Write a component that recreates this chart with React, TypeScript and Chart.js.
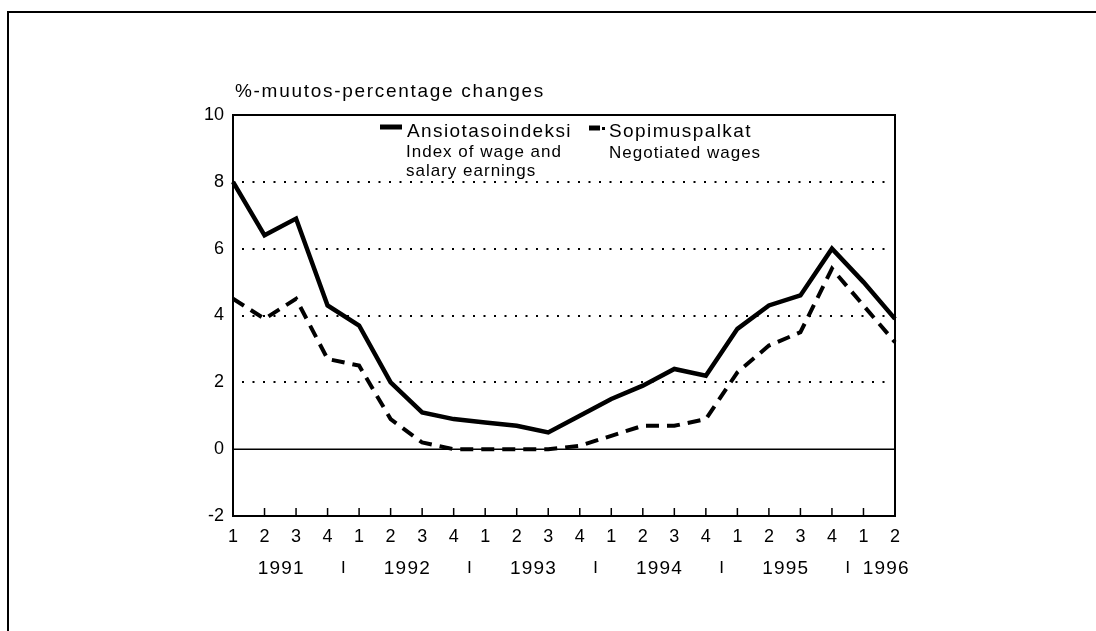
import React, { useEffect, useRef } from "react";
import { Chart, registerables } from "chart.js";

Chart.register(...registerables);

// ---- data ----
const quarterLabels = ["1", "2", "3", "4", "1", "2", "3", "4", "1", "2", "3", "4", "1", "2", "3", "4", "1", "2", "3", "4", "1", "2"];
const yearLabels = ["1991", "1992", "1993", "1994", "1995", "1996"];
const quartersPerYear = [4, 4, 4, 4, 4, 2];
const earningsIndex = [8.0, 6.4, 6.9, 4.3, 3.7, 2.0, 1.1, 0.9, 0.8, 0.7, 0.5, 1.0, 1.5, 1.9, 2.4, 2.2, 3.6, 4.3, 4.6, 6.0, 5.0, 3.9];
const negotiatedWages = [4.5, 3.9, 4.5, 2.7, 2.5, 0.9, 0.2, 0.0, 0.0, 0.0, 0.0, 0.1, 0.4, 0.7, 0.7, 0.9, 2.3, 3.1, 3.5, 5.4, 4.3, 3.2];
const yMin = -2;
const yMax = 10;
const yStep = 2;
const dottedGridValues = [2, 4, 6, 8];
const titleText = "%-muutos-percentage changes";
const legendEarnings = ["Ansiotasoindeksi", "Index of wage and", "salary earnings"];
const legendNegotiated = ["Sopimuspalkat", "Negotiated wages"];

const W = 1096;
const H = 631;
const FONT = '"Liberation Sans", Arial, Helvetica, sans-serif';

function spacedText(
  ctx: CanvasRenderingContext2D,
  text: string,
  x: number,
  y: number,
  size: number,
  spacing: number,
  align: CanvasTextAlign = "left"
) {
  ctx.save();
  ctx.font = `${size}px ${FONT}`;
  (ctx as any).letterSpacing = `${spacing}px`;
  ctx.textAlign = align;
  ctx.textBaseline = "alphabetic";
  ctx.fillStyle = "#000";
  ctx.fillText(text, x, y);
  ctx.restore();
}

const decorPlugin = {
  id: "decor",
  beforeDraw(chart: any) {
    const ctx = chart.ctx as CanvasRenderingContext2D;
    ctx.save();
    ctx.fillStyle = "#fff";
    ctx.fillRect(0, 0, chart.width, chart.height);
    ctx.restore();
  },
  beforeDatasetsDraw(chart: any) {
    const ctx = chart.ctx as CanvasRenderingContext2D;
    const a = chart.chartArea;
    const ys = chart.scales.y;
    ctx.save();
    ctx.strokeStyle = "#000";
    ctx.lineWidth = 2;
    ctx.setLineDash([2, 8.5]);
    for (const v of dottedGridValues) {
      const py = Math.round(ys.getPixelForValue(v));
      ctx.beginPath();
      ctx.moveTo(a.left + 9, py);
      ctx.lineTo(a.right - 5, py);
      ctx.stroke();
    }
    ctx.setLineDash([]);
    ctx.lineWidth = 1.5;
    const z = ys.getPixelForValue(0);
    ctx.beginPath();
    ctx.moveTo(a.left, z);
    ctx.lineTo(a.right, z);
    ctx.stroke();
    ctx.restore();
  },
  afterDatasetsDraw(chart: any) {
    const ctx = chart.ctx as CanvasRenderingContext2D;
    const a = chart.chartArea;
    const xs = chart.scales.x;
    ctx.save();
    ctx.strokeStyle = "#000";
    ctx.fillStyle = "#000";

    // plot box
    ctx.lineWidth = 2;
    ctx.strokeRect(a.left, a.top, a.right - a.left, a.bottom - a.top);

    // inner tick marks on x axis
    ctx.lineWidth = 1.5;
    for (let i = 1; i < quarterLabels.length - 1; i++) {
      const px = xs.getPixelForValue(i);
      ctx.beginPath();
      ctx.moveTo(px, a.bottom);
      ctx.lineTo(px, a.bottom - 8);
      ctx.stroke();
    }

    // outer frame (left + top)
    ctx.lineWidth = 2;
    ctx.beginPath();
    ctx.moveTo(8, H);
    ctx.lineTo(8, 12);
    ctx.lineTo(W, 12);
    ctx.stroke();

    // title
    spacedText(ctx, titleText, a.left + 2, 97, 19, 1.7);

    // legend: solid series
    ctx.lineWidth = 5;
    ctx.beginPath();
    ctx.moveTo(380, 127);
    ctx.lineTo(402, 127);
    ctx.stroke();
    spacedText(ctx, legendEarnings[0], 407, 137, 19, 1.4);
    spacedText(ctx, legendEarnings[1], 406, 157, 17, 1.0);
    spacedText(ctx, legendEarnings[2], 406, 176, 17, 1.0);

    // legend: dashed series
    ctx.lineWidth = 5;
    ctx.beginPath();
    ctx.moveTo(589, 128);
    ctx.lineTo(600, 128);
    ctx.stroke();
    ctx.fillRect(602, 127, 3, 3);
    spacedText(ctx, legendNegotiated[0], 609, 137, 19, 1.4);
    spacedText(ctx, legendNegotiated[1], 609, 158, 17, 1.0);

    // year labels and separators
    let start = 0;
    const yearBase = 574;
    ctx.lineWidth = 1.6;
    yearLabels.forEach((yr, k) => {
      const n = quartersPerYear[k];
      const first = xs.getPixelForValue(start);
      const last = xs.getPixelForValue(start + n - 1);
      if (k > 0) {
        const sep = (first + xs.getPixelForValue(start - 1)) / 2;
        ctx.beginPath();
        ctx.moveTo(sep, yearBase - 13);
        ctx.lineTo(sep, yearBase - 1);
        ctx.stroke();
        if (n < 4) {
          spacedText(ctx, yr, sep + 15, yearBase, 19, 1.2, "left");
        } else {
          spacedText(ctx, yr, (first + last) / 2 + 1, yearBase, 19, 1.2, "center");
        }
      } else {
        spacedText(ctx, yr, (first + last) / 2 + 1, yearBase, 19, 1.2, "center");
      }
      start += n;
    });

    ctx.restore();
  },
};

export default function App() {
  const canvasRef = useRef<HTMLCanvasElement | null>(null);

  useEffect(() => {
    const canvas = canvasRef.current;
    if (!canvas) return;
    const chart = new Chart(canvas, {
      type: "line",
      data: {
        labels: quarterLabels,
        datasets: [
          {
            label: legendEarnings[0],
            data: earningsIndex,
            borderColor: "#000",
            backgroundColor: "#000",
            borderWidth: 4.5,
            pointRadius: 0,
            tension: 0,
            fill: false,
          },
          {
            label: legendNegotiated[0],
            data: negotiatedWages,
            borderColor: "#000",
            backgroundColor: "#000",
            borderWidth: 4,
            borderDash: [13, 8],
            pointRadius: 0,
            tension: 0,
            fill: false,
          },
        ],
      },
      options: {
        responsive: false,
        animation: false,
        devicePixelRatio: 1,
        layout: { padding: { left: 150, top: 115, right: 201, bottom: 15 } },
        plugins: {
          legend: { display: false },
          tooltip: { enabled: false },
          title: { display: false },
        },
        scales: {
          x: {
            type: "category",
            offset: false,
            grid: { display: false, drawTicks: false },
            border: { display: false },
            ticks: {
              font: { family: FONT, size: 18 },
              color: "#000",
              padding: 10,
              maxRotation: 0,
              minRotation: 0,
              autoSkip: false,
            },
            afterFit(s: any) {
              s.height = 100;
            },
          },
          y: {
            min: yMin,
            max: yMax,
            ticks: {
              stepSize: yStep,
              font: { family: FONT, size: 18 },
              color: "#000",
              padding: 9,
            },
            grid: { display: false, drawTicks: false },
            border: { display: false },
            afterFit(s: any) {
              s.width = 83;
            },
          },
        },
      },
      plugins: [decorPlugin],
    } as any);
    return () => chart.destroy();
  }, []);

  return (
    <div style={{ position: "absolute", left: 0, top: 0, width: W, height: H, background: "#fff" }}>
      <canvas ref={canvasRef} width={W} height={H} style={{ display: "block", width: W, height: H }} />
    </div>
  );
}
